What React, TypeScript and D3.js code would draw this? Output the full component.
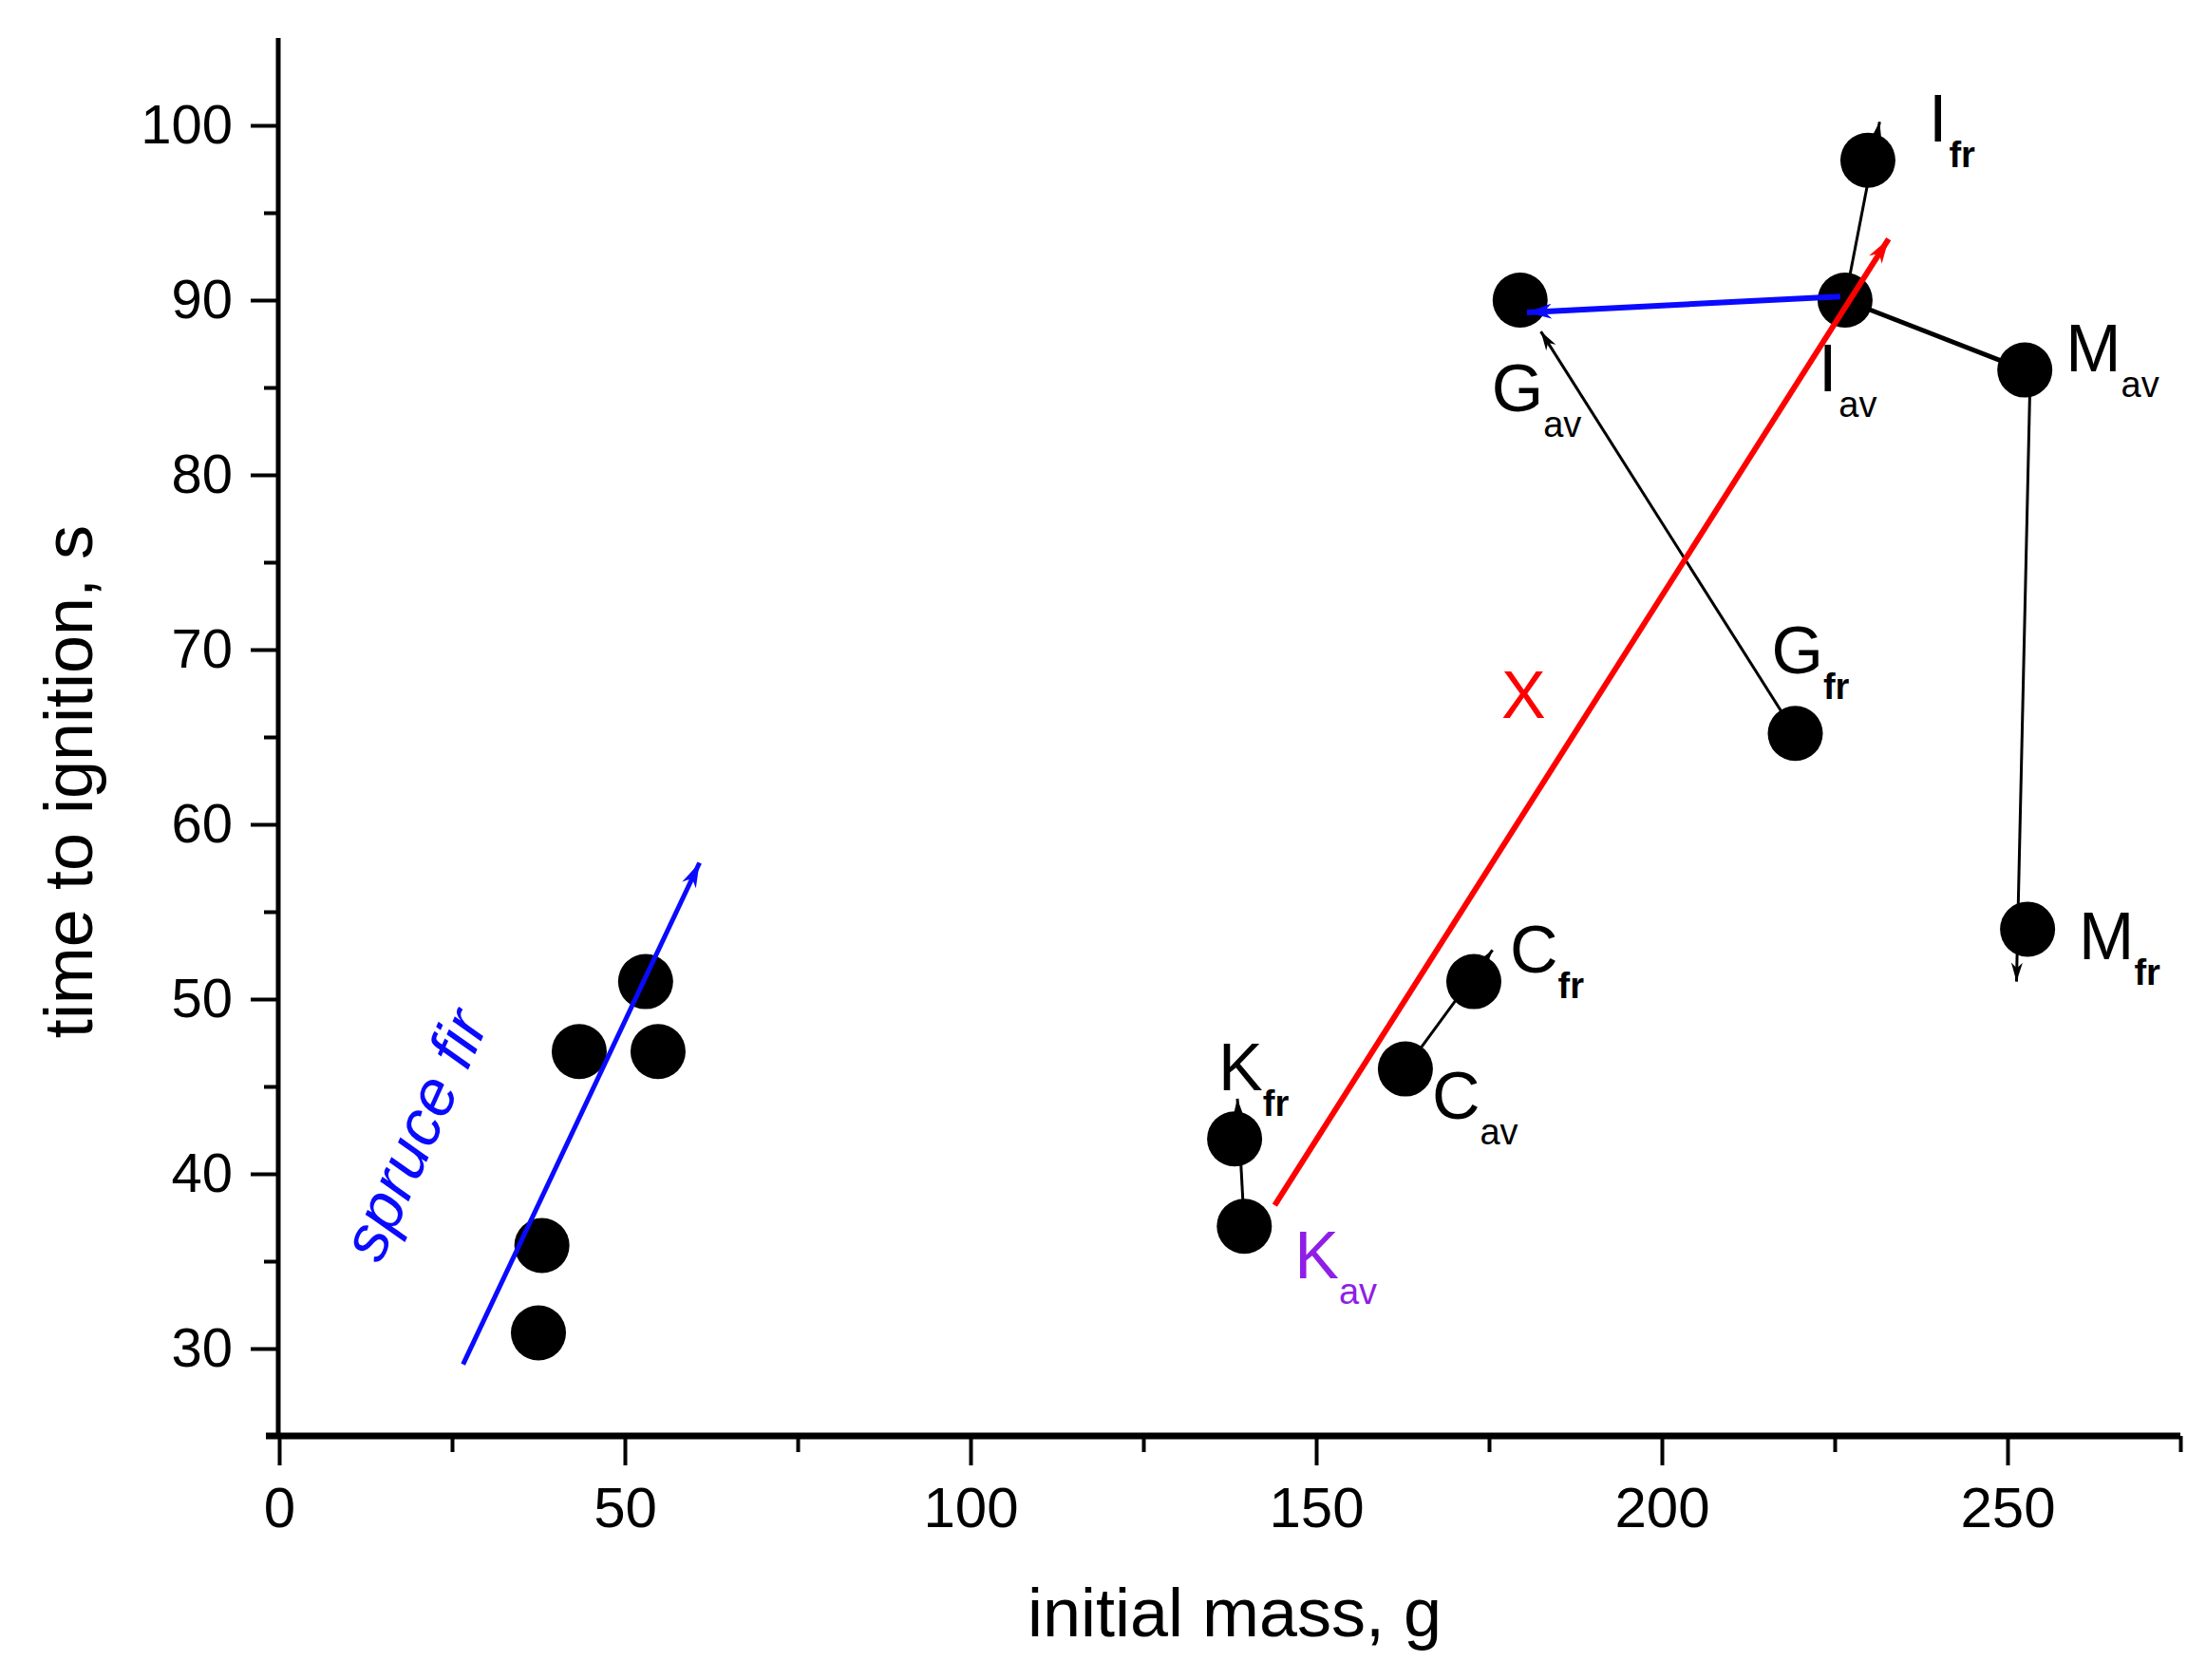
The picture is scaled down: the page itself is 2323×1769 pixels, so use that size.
import * as React from "react"
import { useEffect, useRef } from "react"
import * as d3 from "d3"

// spruce fir samples (unlabelled dots)
const spruceMass = [37.5, 38.0, 43.4, 53.0, 54.8]
const spruceTime = [30.9, 35.9, 47.0, 51.0, 47.0]

// labelled samples: letter + subscript
const pointLetter = ["K", "K", "C", "C", "G", "G", "I", "I", "M", "M"]
const pointSub = ["fr", "av", "av", "fr", "fr", "av", "av", "fr", "av", "fr"]
const pointMass = [138.2, 139.6, 162.9, 172.8, 219.3, 179.5, 226.5, 229.8, 252.5, 252.9]
const pointTime = [42, 37, 46, 51, 65.2, 90, 90, 98, 86, 54]

// arrows / connecting lines
const arrowNames = ["spruce", "X", "IG", "K", "C", "G", "I", "M", "IM"]
const arrowStartMass = [26.6, 144.0, 225.8, 139.6, 162.9, 219.3, 226.5, 253.3, 226.5]
const arrowStartTime = [29.1, 38.2, 90.2, 37, 46, 65.2, 90, 86, 90]
const arrowEndMass = [60.8, 232.8, 180.5, 138.6, 175.5, 182.5, 231.5, 251.3, 252.5]
const arrowEndTime = [57.8, 93.5, 89.3, 44.3, 52.8, 88.2, 100.2, 51.0, 86]

const xMajor = [0, 50, 100, 150, 200, 250]
const xMinor = [25, 75, 125, 175, 225, 275]
const yMajor = [30, 40, 50, 60, 70, 80, 90, 100]
const yMinor = [35, 45, 55, 65, 75, 85, 95]

const W = 2323
const H = 1769
const FONT = "'Liberation Sans', Arial, sans-serif"

const arrowStyle: Record<string, { color: string; width: number; head: boolean }> = {
  spruce: { color: "#0a0aff", width: 5, head: true },
  X: { color: "#ff0000", width: 6, head: true },
  IG: { color: "#0a0aff", width: 6, head: true },
  K: { color: "#000", width: 3, head: true },
  C: { color: "#000", width: 3, head: true },
  G: { color: "#000", width: 3, head: true },
  I: { color: "#000", width: 3, head: true },
  M: { color: "#000", width: 3, head: true },
  IM: { color: "#000", width: 5, head: false },
}

// label offsets in px from the point centre
const labelOffset: Record<string, [number, number]> = {
  K_fr: [-17, -51],
  K_av: [53, 55],
  C_av: [28, 52],
  C_fr: [38, -10],
  G_fr: [-25, -63],
  G_av: [-30, 117],
  I_av: [-28, 96],
  I_fr: [64, -20],
  M_av: [43, 1],
  M_fr: [54, 32],
}

export default function App() {
  const xAxisRef = useRef<SVGGElement | null>(null)
  const yAxisRef = useRef<SVGGElement | null>(null)

  const x = d3.scaleLinear().domain([0, 275]).range([294, 294 + 275 * 7.28])
  const y = d3.scaleLinear().domain([25, 105]).range([1512, 40])

  useEffect(() => {
    const gx = d3.select(xAxisRef.current)
    gx.selectAll("*").remove()
    gx.append("g")
      .call(d3.axisBottom(x).tickValues(xMinor).tickSize(17).tickFormat(() => "").tickSizeOuter(0))
      .call(g => g.select(".domain").remove())
      .call(g => g.selectAll("line").attr("stroke-width", 4))
    gx.append("g")
      .call(d3.axisBottom(x).tickValues(xMajor).tickSize(31).tickPadding(22).tickSizeOuter(0).tickFormat(d3.format("d")))
      .call(g => g.select(".domain").remove())
      .call(g => g.selectAll("line").attr("stroke-width", 4))
      .call(g => g.selectAll("text").attr("font-size", 60).attr("font-family", FONT).attr("fill", "#000"))
    gx.append("line")
      .attr("x1", 280).attr("x2", x(275))
      .attr("y1", 0).attr("y2", 0)
      .attr("stroke", "#000").attr("stroke-width", 7)

    const gy = d3.select(yAxisRef.current)
    gy.selectAll("*").remove()
    gy.append("g")
      .call(d3.axisLeft(y).tickValues(yMinor).tickSize(15).tickFormat(() => "").tickSizeOuter(0))
      .call(g => g.select(".domain").remove())
      .call(g => g.selectAll("line").attr("stroke-width", 4))
    gy.append("g")
      .call(d3.axisLeft(y).tickValues(yMajor).tickSize(29).tickPadding(19).tickSizeOuter(0).tickFormat(d3.format("d")))
      .call(g => g.select(".domain").remove())
      .call(g => g.selectAll("line").attr("stroke-width", 4))
      .call(g => g.selectAll("text").attr("font-size", 58).attr("font-family", FONT).attr("fill", "#000"))
    gy.append("line")
      .attr("x1", 0).attr("x2", 0)
      .attr("y1", y(25)).attr("y2", y(105))
      .attr("stroke", "#000").attr("stroke-width", 5)
  }, [])

  const blackArrowNames = ["K", "C", "G", "I", "M", "IM"]
  const colouredArrowNames = ["spruce", "X", "IG"]

  const drawArrow = (name: string) => {
    const i = arrowNames.indexOf(name)
    const s = arrowStyle[name]
    const markerId = s.head ? `head-${name}` : undefined
    return (
      <line
        key={name}
        x1={x(arrowStartMass[i])}
        y1={y(arrowStartTime[i])}
        x2={x(arrowEndMass[i])}
        y2={y(arrowEndTime[i])}
        stroke={s.color}
        strokeWidth={s.width}
        markerEnd={markerId ? `url(#${markerId})` : undefined}
      />
    )
  }

  return (
    <svg
      width={W}
      height={H}
      viewBox={`0 0 ${W} ${H}`}
      style={{ position: "absolute", left: 0, top: 0, background: "#fff" }}
    >
      <defs>
        {arrowNames.filter(n => arrowStyle[n].head).map(n => {
          const big = arrowStyle[n].color !== "#000"
          const len = big ? 26 : 20
          const half = big ? 8 : 6
          return (
            <marker
              key={n}
              id={`head-${n}`}
              markerUnits="userSpaceOnUse"
              markerWidth={len}
              markerHeight={half * 2}
              refX={len}
              refY={half}
              orient="auto"
              viewBox={`0 0 ${len} ${half * 2}`}
            >
              <path d={`M0,0 L${len},${half} L0,${half * 2} L${len * 0.3},${half} Z`} fill={arrowStyle[n].color} />
            </marker>
          )
        })}
      </defs>

      <g ref={yAxisRef} transform={`translate(${x(0) - 1},0)`} />
      <g ref={xAxisRef} transform={`translate(0,${y(25)})`} />

      {blackArrowNames.map(drawArrow)}

      {spruceMass.map((m, i) => (
        <circle key={`s${i}`} cx={x(m)} cy={y(spruceTime[i])} r={29} fill="#000" />
      ))}
      {pointMass.map((m, i) => (
        <circle key={`p${i}`} cx={x(m)} cy={y(pointTime[i])} r={29} fill="#000" />
      ))}

      {colouredArrowNames.map(drawArrow)}

      {pointMass.map((m, i) => {
        const key = `${pointLetter[i]}_${pointSub[i]}`
        const [dx, dy] = labelOffset[key]
        const colour = key === "K_av" ? "#8f1fe6" : "#000"
        return (
          <text key={key} x={x(m) + dx} y={y(pointTime[i]) + dy} fontFamily={FONT} fontSize={70} fill={colour}>
            {pointLetter[i]}
            <tspan dx={pointLetter[i] === "I" ? 2 : 0} dy={27} fontSize={38} fontWeight={pointSub[i] === "fr" ? "bold" : "normal"}>
              {pointSub[i]}
            </tspan>
          </text>
        )
      })}

      <text x={x(176.8)} y={y(66.1)} fontFamily={FONT} fontSize={70} fill="#ff0000">X</text>

      <text
        transform={`translate(${x(14.6)},${y(34.8)}) rotate(-65.7)`}
        fontFamily={FONT}
        fontStyle="italic"
        fontSize={68}
        fill="#0a0aff"
      >
        spruce fir
      </text>

      <text x={1300} y={1723} textAnchor="middle" fontFamily={FONT} fontSize={72} fill="#000">
        initial mass, g
      </text>
      <text transform="translate(97,823) rotate(-90)" textAnchor="middle" fontFamily={FONT} fontSize={72} fill="#000">
        time to ignition, s
      </text>
    </svg>
  )
}
